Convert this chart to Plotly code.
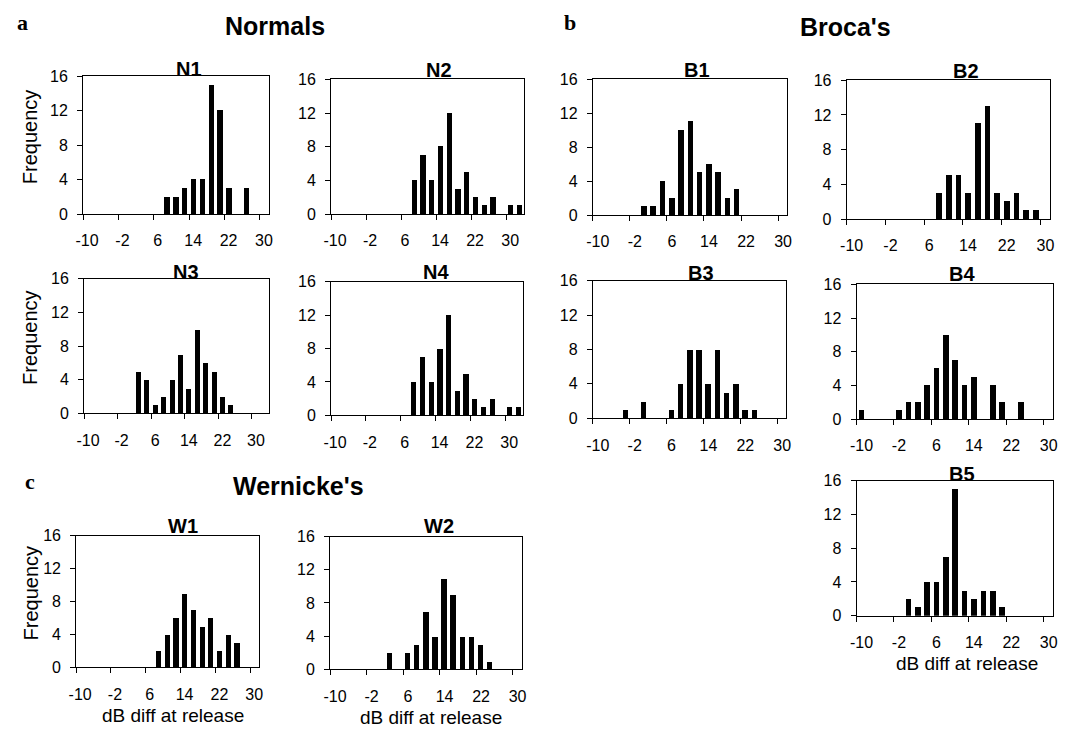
import plotly.graph_objects as go

W, H = 1066, 737

# ---- data: bin label (dB diff at release) and frequency ----
n1_bins = [8, 10, 12, 14, 16, 18, 20, 22, 26]
n1_freq = [2, 2, 3, 4, 4, 15, 12, 3, 3]

n2_bins = [8, 10, 12, 14, 16, 18, 20, 22, 24, 26, 30, 32]
n2_freq = [4, 7, 4, 8, 12, 3, 5, 2, 1, 2, 1, 1]

n3_bins = [2, 4, 6, 8, 10, 12, 14, 16, 18, 20, 22, 24]
n3_freq = [5, 4, 1, 2, 4, 7, 3, 10, 6, 5, 2, 1]

n4_bins = [8, 10, 12, 14, 16, 18, 20, 22, 24, 26, 30, 32]
n4_freq = [4, 7, 4, 8, 12, 3, 5, 2, 1, 2, 1, 1]

b1_bins = [0, 2, 4, 6, 8, 10, 12, 14, 16, 18, 20]
b1_freq = [1, 1, 4, 2, 10, 11, 5, 6, 5, 2, 3]

b2_bins = [8, 10, 12, 14, 16, 18, 20, 22, 24, 26, 28]
b2_freq = [3, 5, 5, 3, 11, 13, 3, 2, 3, 1, 1]

b3_bins = [-4, 0, 6, 8, 10, 12, 14, 16, 18, 20, 22, 24]
b3_freq = [1, 2, 1, 4, 8, 8, 4, 8, 3, 4, 1, 1]

b4_bins = [-10, -2, 0, 2, 4, 6, 8, 10, 12, 14, 18, 20, 24]
b4_freq = [1, 1, 2, 2, 4, 6, 10, 7, 4, 5, 4, 2, 2]

b5_bins = [0, 2, 4, 6, 8, 10, 12, 14, 16, 18, 20]
b5_freq = [2, 1, 4, 4, 7, 15, 3, 2, 3, 3, 1]

w1_bins = [8, 10, 12, 14, 16, 18, 20, 22, 24, 26]
w1_freq = [2, 4, 6, 9, 7, 5, 6, 2, 4, 3]

w2_bins = [2, 6, 8, 10, 12, 14, 16, 18, 20, 22, 24]
w2_freq = [2, 2, 3, 7, 4, 11, 9, 4, 4, 3, 1]

x_tick_cats = [-10, -2, 6, 14, 22, 30]
x_tick_labels = ["-10", "-2", "6", "14", "22", "30"]
y_tick_vals = [0, 4, 8, 12, 16]

# panels: name, bins, freq, last category, plot box in px (x0, x1, ytop, ybottom)
panels = [
    ("N1", n1_bins, n1_freq, 30, (76, 264, 70, 211)),
    ("N2", n2_bins, n2_freq, 32, (327, 522, 73, 211)),
    ("B1", b1_bins, b1_freq, 30, (592, 789, 73, 212)),
    ("B2", b2_bins, b2_freq, 30, (849, 1055, 74, 216)),
    ("N3", n3_bins, n3_freq, 32, (77, 264, 277, 415)),
    ("N4", n4_bins, n4_freq, 32, (327, 521, 280, 417)),
    ("B3", b3_bins, b3_freq, 30, (592, 788, 279, 420)),
    ("B4", b4_bins, b4_freq, 30, (859, 1058, 283, 421)),
    ("B5", b5_bins, b5_freq, 30, (859, 1058, 484, 622)),
    ("W1", w1_bins, w1_freq, 30, (69, 254, 540, 675)),
    ("W2", w2_bins, w2_freq, 30, (326, 520, 541, 677)),
]

title_pos = {
    "N1": (183, 62), "N2": (436, 63), "B1": (697, 63), "B2": (970, 64),
    "N3": (180, 270), "N4": (433, 270), "B3": (702, 271), "B4": (966, 272),
    "B5": (966, 477), "W1": (177, 530), "W2": (436, 530),
}
xtitle_shift = {"W1": 6, "W2": 5, "B5": 12}

FONT = "Liberation Sans, Arial, sans-serif"
fig = go.Figure()
layout = dict(
    width=W, height=H, autosize=False,
    margin=dict(l=0, r=0, t=0, b=0, pad=0),
    paper_bgcolor="white", plot_bgcolor="white",
    showlegend=False, bargap=0,
    font=dict(family=FONT, color="black", size=16),
)
annotations = []


def px_x(p):
    return p / W


def px_y(p):
    return 1 - p / H


cat_first = -10
for i, (name, bins, freq, cat_last, (x0, x1, yt, yb)) in enumerate(panels):
    k = "" if i == 0 else str(i + 1)
    fig.add_trace(go.Bar(
        x=bins, y=freq, width=1.2,
        marker=dict(color="black", line=dict(width=0)),
        xaxis="x" + k, yaxis="y" + k, hoverinfo="x+y",
    ))
    rng = [cat_first - 1, cat_last + 1]
    ppu = (x1 - x0) / (rng[1] - rng[0])
    layout["xaxis" + k] = dict(
        domain=[px_x(x0), px_x(x1)], anchor="y" + k, range=rng,
        tickmode="array", tickvals=[c - 1 for c in x_tick_cats], ticktext=x_tick_labels,
        ticks="outside", ticklen=5, tickcolor="black", tickwidth=1,
        ticklabelshift=int(round(ppu)), ticklabelstandoff=7,
        ticklabeloverflow="allow",
        showline=True, mirror=True, linecolor="black", linewidth=1,
        showgrid=False, zeroline=False, fixedrange=True,
        tickfont=dict(size=16, family=FONT, color="black"),
    )
    layout["yaxis" + k] = dict(
        domain=[px_y(yb), px_y(yt)], anchor="x" + k, range=[0, 16],
        tickmode="array", tickvals=y_tick_vals,
        ticks="outside", ticklen=5, tickcolor="black", tickwidth=1,
        ticklabelstandoff=6,
        showline=True, mirror=True, linecolor="black", linewidth=1,
        showgrid=False, zeroline=False, fixedrange=True,
        tickfont=dict(size=16, family=FONT, color="black"),
    )
    tx, ty = title_pos[name]
    annotations.append(dict(
        text="<b>%s</b>" % name, x=px_x(tx), y=px_y(ty), xref="paper", yref="paper",
        xanchor="center", yanchor="middle", showarrow=False,
        font=dict(size=20, family=FONT, color="black"),
    ))
    if name in ("N1", "N3", "W1"):
        annotations.append(dict(
            text="Frequency", x=px_x(23), y=px_y((yt + yb) / 2 - 9), xref="paper", yref="paper",
            xanchor="center", yanchor="middle", showarrow=False, textangle=-90,
            font=dict(size=20, family=FONT, color="black"),
        ))
    if name in xtitle_shift:
        annotations.append(dict(
            text="dB diff at release", x=px_x((x0 + x1) / 2 + xtitle_shift[name]), y=px_y(yb + 49),
            xref="paper", yref="paper",
            xanchor="center", yanchor="middle", showarrow=False,
            font=dict(size=19, family=FONT, color="black"),
        ))

# group titles and panel letters
for txt, x, y in [("Normals", 270, 18), ("Broca's", 848, 19), ("Wernicke's", 294, 489)]:
    annotations.append(dict(
        text="<b>%s</b>" % txt, x=px_x(x), y=px_y(y), xref="paper", yref="paper",
        xanchor="center", yanchor="middle", showarrow=False,
        font=dict(size=25, family=FONT, color="black"),
    ))
for txt, x, y in [("a", 15, 15), ("b", 569, 15), ("c", 22, 485)]:
    annotations.append(dict(
        text="<b>%s</b>" % txt, x=px_x(x), y=px_y(y), xref="paper", yref="paper",
        xanchor="center", yanchor="middle", showarrow=False,
        font=dict(size=22, family="Liberation Serif, Times New Roman, serif", color="black"),
    ))

layout["annotations"] = annotations
fig.update_layout(**layout)
fig.write_html(
    "out.html",
    config={"displayModeBar": False, "staticPlot": False},
    post_script="document.body.style.margin='0';document.body.style.overflow='hidden';",
)
